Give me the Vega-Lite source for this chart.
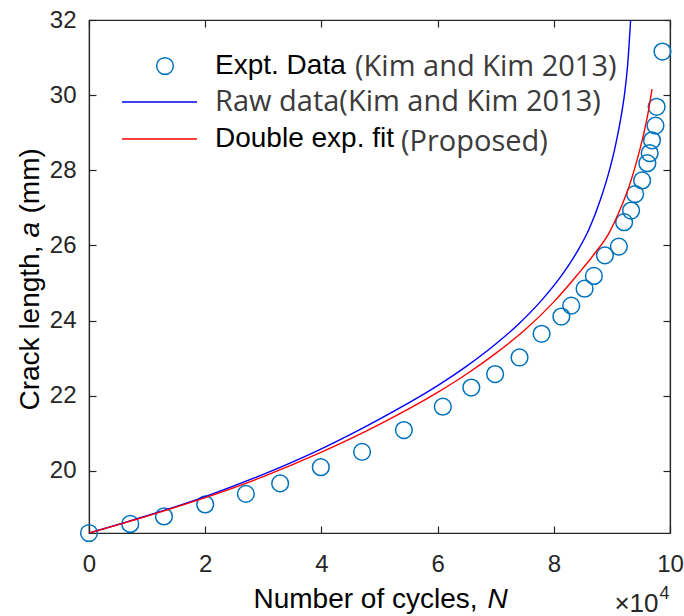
{
  "$schema": "https://vega.github.io/schema/vega-lite/v6.json",
  "width": 581,
  "height": 513,
  "autosize": {"type": "none"},
  "padding": {"left": 89, "top": 20, "right": 14, "bottom": 83},
  "background": "#ffffff",
  "config": {
    "view": {"stroke": "#262626", "strokeWidth": 1.2},
    "font": "Liberation Sans",
    "axis": {
      "grid": false,
      "domainColor": "#262626",
      "domainWidth": 1.2,
      "tickColor": "#262626",
      "tickWidth": 1.2,
      "labelColor": "#262626",
      "labelFont": "Liberation Sans",
      "titleFont": "Liberation Sans",
      "titleFontWeight": "normal",
      "titleColor": "#000000",
      "titleBaseline": "alphabetic",
      "titleAlign": "left"
    }
  },
  "datasets": {
    "expt": [
      {"N": 0, "a": 18.35, "series": "Expt. Data", "source": "(Kim and Kim 2013)"},
      {"N": 7100, "a": 18.59, "series": "Expt. Data", "source": "(Kim and Kim 2013)"},
      {"N": 12900, "a": 18.79, "series": "Expt. Data", "source": "(Kim and Kim 2013)"},
      {"N": 20000, "a": 19.11, "series": "Expt. Data", "source": "(Kim and Kim 2013)"},
      {"N": 27000, "a": 19.39, "series": "Expt. Data", "source": "(Kim and Kim 2013)"},
      {"N": 32900, "a": 19.67, "series": "Expt. Data", "source": "(Kim and Kim 2013)"},
      {"N": 39900, "a": 20.10, "series": "Expt. Data", "source": "(Kim and Kim 2013)"},
      {"N": 47000, "a": 20.51, "series": "Expt. Data", "source": "(Kim and Kim 2013)"},
      {"N": 54200, "a": 21.09, "series": "Expt. Data", "source": "(Kim and Kim 2013)"},
      {"N": 60900, "a": 21.71, "series": "Expt. Data", "source": "(Kim and Kim 2013)"},
      {"N": 65800, "a": 22.22, "series": "Expt. Data", "source": "(Kim and Kim 2013)"},
      {"N": 69900, "a": 22.58, "series": "Expt. Data", "source": "(Kim and Kim 2013)"},
      {"N": 74100, "a": 23.02, "series": "Expt. Data", "source": "(Kim and Kim 2013)"},
      {"N": 77900, "a": 23.65, "series": "Expt. Data", "source": "(Kim and Kim 2013)"},
      {"N": 81300, "a": 24.11, "series": "Expt. Data", "source": "(Kim and Kim 2013)"},
      {"N": 83000, "a": 24.40, "series": "Expt. Data", "source": "(Kim and Kim 2013)"},
      {"N": 85300, "a": 24.85, "series": "Expt. Data", "source": "(Kim and Kim 2013)"},
      {"N": 86900, "a": 25.19, "series": "Expt. Data", "source": "(Kim and Kim 2013)"},
      {"N": 88800, "a": 25.74, "series": "Expt. Data", "source": "(Kim and Kim 2013)"},
      {"N": 91200, "a": 25.97, "series": "Expt. Data", "source": "(Kim and Kim 2013)"},
      {"N": 92100, "a": 26.62, "series": "Expt. Data", "source": "(Kim and Kim 2013)"},
      {"N": 93300, "a": 26.93, "series": "Expt. Data", "source": "(Kim and Kim 2013)"},
      {"N": 94000, "a": 27.37, "series": "Expt. Data", "source": "(Kim and Kim 2013)"},
      {"N": 95200, "a": 27.73, "series": "Expt. Data", "source": "(Kim and Kim 2013)"},
      {"N": 96100, "a": 28.19, "series": "Expt. Data", "source": "(Kim and Kim 2013)"},
      {"N": 96500, "a": 28.46, "series": "Expt. Data", "source": "(Kim and Kim 2013)"},
      {"N": 96900, "a": 28.80, "series": "Expt. Data", "source": "(Kim and Kim 2013)"},
      {"N": 97500, "a": 29.19, "series": "Expt. Data", "source": "(Kim and Kim 2013)"},
      {"N": 97700, "a": 29.69, "series": "Expt. Data", "source": "(Kim and Kim 2013)"},
      {"N": 98700, "a": 31.16, "series": "Expt. Data", "source": "(Kim and Kim 2013)"}
    ],
    "curves": [
      {"N": 0, "a": 18.35, "series": "Raw data(Kim and Kim 2013)", "source": "(Kim and Kim 2013)"},
      {"N": 10000, "a": 18.81, "series": "Raw data(Kim and Kim 2013)", "source": "(Kim and Kim 2013)"},
      {"N": 20000, "a": 19.32, "series": "Raw data(Kim and Kim 2013)", "source": "(Kim and Kim 2013)"},
      {"N": 30000, "a": 19.91, "series": "Raw data(Kim and Kim 2013)", "source": "(Kim and Kim 2013)"},
      {"N": 40000, "a": 20.59, "series": "Raw data(Kim and Kim 2013)", "source": "(Kim and Kim 2013)"},
      {"N": 50000, "a": 21.38, "series": "Raw data(Kim and Kim 2013)", "source": "(Kim and Kim 2013)"},
      {"N": 60000, "a": 22.27, "series": "Raw data(Kim and Kim 2013)", "source": "(Kim and Kim 2013)"},
      {"N": 65000, "a": 22.79, "series": "Raw data(Kim and Kim 2013)", "source": "(Kim and Kim 2013)"},
      {"N": 70000, "a": 23.38, "series": "Raw data(Kim and Kim 2013)", "source": "(Kim and Kim 2013)"},
      {"N": 74000, "a": 23.92, "series": "Raw data(Kim and Kim 2013)", "source": "(Kim and Kim 2013)"},
      {"N": 78000, "a": 24.56, "series": "Raw data(Kim and Kim 2013)", "source": "(Kim and Kim 2013)"},
      {"N": 81000, "a": 25.13, "series": "Raw data(Kim and Kim 2013)", "source": "(Kim and Kim 2013)"},
      {"N": 84000, "a": 25.83, "series": "Raw data(Kim and Kim 2013)", "source": "(Kim and Kim 2013)"},
      {"N": 86000, "a": 26.41, "series": "Raw data(Kim and Kim 2013)", "source": "(Kim and Kim 2013)"},
      {"N": 88000, "a": 27.21, "series": "Raw data(Kim and Kim 2013)", "source": "(Kim and Kim 2013)"},
      {"N": 89500, "a": 27.96, "series": "Raw data(Kim and Kim 2013)", "source": "(Kim and Kim 2013)"},
      {"N": 90500, "a": 28.58, "series": "Raw data(Kim and Kim 2013)", "source": "(Kim and Kim 2013)"},
      {"N": 91500, "a": 29.36, "series": "Raw data(Kim and Kim 2013)", "source": "(Kim and Kim 2013)"},
      {"N": 92200, "a": 30.06, "series": "Raw data(Kim and Kim 2013)", "source": "(Kim and Kim 2013)"},
      {"N": 92700, "a": 30.79, "series": "Raw data(Kim and Kim 2013)", "source": "(Kim and Kim 2013)"},
      {"N": 93200, "a": 31.94, "series": "Raw data(Kim and Kim 2013)", "source": "(Kim and Kim 2013)"},
      {"N": 93300, "a": 32.2, "series": "Raw data(Kim and Kim 2013)", "source": "(Kim and Kim 2013)"},
      {"N": 0, "a": 18.35, "series": "Double exp. fit", "source": "(Proposed)"},
      {"N": 10000, "a": 18.80, "series": "Double exp. fit", "source": "(Proposed)"},
      {"N": 20000, "a": 19.29, "series": "Double exp. fit", "source": "(Proposed)"},
      {"N": 30000, "a": 19.85, "series": "Double exp. fit", "source": "(Proposed)"},
      {"N": 40000, "a": 20.50, "series": "Double exp. fit", "source": "(Proposed)"},
      {"N": 50000, "a": 21.24, "series": "Double exp. fit", "source": "(Proposed)"},
      {"N": 60000, "a": 22.09, "series": "Double exp. fit", "source": "(Proposed)"},
      {"N": 65000, "a": 22.58, "series": "Double exp. fit", "source": "(Proposed)"},
      {"N": 70000, "a": 23.13, "series": "Double exp. fit", "source": "(Proposed)"},
      {"N": 75000, "a": 23.75, "series": "Double exp. fit", "source": "(Proposed)"},
      {"N": 80000, "a": 24.50, "series": "Double exp. fit", "source": "(Proposed)"},
      {"N": 84000, "a": 25.21, "series": "Double exp. fit", "source": "(Proposed)"},
      {"N": 87000, "a": 25.78, "series": "Double exp. fit", "source": "(Proposed)"},
      {"N": 89500, "a": 26.33, "series": "Double exp. fit", "source": "(Proposed)"},
      {"N": 91500, "a": 26.99, "series": "Double exp. fit", "source": "(Proposed)"},
      {"N": 93000, "a": 27.59, "series": "Double exp. fit", "source": "(Proposed)"},
      {"N": 94500, "a": 28.37, "series": "Double exp. fit", "source": "(Proposed)"},
      {"N": 95500, "a": 28.99, "series": "Double exp. fit", "source": "(Proposed)"},
      {"N": 96300, "a": 29.59, "series": "Double exp. fit", "source": "(Proposed)"},
      {"N": 96900, "a": 30.16, "series": "Double exp. fit", "source": "(Proposed)"}
    ]
  },
  "layer": [
    {
      "data": {"name": "expt"},
      "mark": {"type": "point", "shape": "circle", "filled": false, "size": 280, "strokeWidth": 1.5},
      "encoding": {
        "x": {
          "field": "N", "type": "quantitative",
          "scale": {"domain": [0, 100000], "nice": false, "zero": false},
          "axis": {
            "orient": "bottom",
            "values": [0, 20000, 40000, 60000, 80000, 100000],
            "labelExpr": "format(datum.value / 10000, 'd')",
            "labelFontSize": 24, "labelPadding": 26, "labelFlush": false, "labelOverlap": false,
            "tickSize": -7,
            "title": "Number of cycles,", "titleFontSize": 28,
            "titleX": 164, "titleY": 74
          }
        },
        "y": {
          "field": "a", "type": "quantitative",
          "scale": {"domain": [18.35, 32], "nice": false, "zero": false},
          "axis": {
            "orient": "left",
            "values": [20, 22, 24, 26, 28, 30, 32],
            "labelFontSize": 24, "labelPadding": 20, "labelFlush": false, "labelOverlap": false,
            "tickSize": -7,
            "title": "Crack length,", "titleFontSize": 28,
            "titleX": -51, "titleY": 390
          }
        },
        "color": {
          "field": "series", "type": "nominal",
          "scale": {
            "domain": ["Expt. Data", "Raw data(Kim and Kim 2013)", "Double exp. fit"],
            "range": ["#0072BD", "#0000FF", "#FF0000"]
          },
          "legend": {
            "orient": "none", "legendX": 33, "legendY": 32, "title": null, "padding": 0,
            "symbolType": "stroke", "symbolSize": 5625, "symbolStrokeWidth": 1.3, "symbolOffset": 0,
            "labelOffset": 15, "rowPadding": 8, "labelLimit": 600,
            "labelFont": "Liberation Sans", "labelFontSize": 28, "labelColor": "#000000",
            "encode": {
              "symbols": {
                "update": {
                  "shape": {"signal": "datum.value === 'Expt. Data' ? 'circle' : 'stroke'"},
                  "size": {"signal": "datum.value === 'Expt. Data' ? 280 : 5625"},
                  "strokeWidth": {"signal": "datum.value === 'Expt. Data' ? 1.5 : 1.3"},
                  "x": {"signal": "datum.value === 'Expt. Data' ? 43 : 37.5"},
                  "fill": {"value": "transparent"},
                  "opacity": {"value": 1}
                }
              },
              "labels": {
                "update": {
                  "x": {"value": 93},
                  "font": {"signal": "datum.value === 'Raw data(Kim and Kim 2013)' ? 'Open Sans' : 'Liberation Sans'"},
                  "fontSize": {"signal": "datum.value === 'Raw data(Kim and Kim 2013)' ? 29 : 28"},
                  "fill": {"signal": "datum.value === 'Raw data(Kim and Kim 2013)' ? '#3b3b3b' : '#000000'"}
                }
              }
            }
          }
        },
        "opacity": {
          "field": "source", "type": "ordinal",
          "scale": {"domain": ["(Kim and Kim 2013)", "(Proposed)"], "range": [1, 1]},
          "legend": {
            "orient": "none", "legendX": 266, "legendY": 32, "title": null, "padding": 0,
            "symbolSize": 1, "symbolOpacity": 0, "symbolOffset": 0,
            "labelOffset": 0, "rowPadding": 45, "labelLimit": 600,
            "labelFont": "Open Sans", "labelFontSize": 29, "labelColor": "#3b3b3b",
            "encode": {
              "symbols": {"update": {"opacity": {"value": 0}, "fill": {"value": "transparent"}, "stroke": {"value": "transparent"}}},
              "labels": {
                "update": {
                  "x": {"signal": "datum.value === '(Proposed)' ? 46 : 0"}
                }
              }
            }
          }
        }
      }
    },
    {
      "data": {"name": "curves"},
      "mark": {"type": "line", "strokeWidth": 1.4, "interpolate": "monotone", "clip": true},
      "encoding": {
        "x": {
          "field": "N", "type": "quantitative",
          "scale": {"domain": [0, 100000], "nice": false, "zero": false},
          "axis": {
            "orient": "top", "values": [0, 20000, 40000, 60000, 80000, 100000],
            "labels": false, "tickSize": -7, "title": null
          }
        },
        "y": {
          "field": "a", "type": "quantitative",
          "scale": {"domain": [18.35, 32], "nice": false, "zero": false},
          "axis": {
            "orient": "right", "values": [20, 22, 24, 26, 28, 30, 32],
            "labels": false, "tickSize": -7, "title": null
          }
        },
        "color": {
          "field": "series", "type": "nominal",
          "legend": {
            "orient": "none", "legendX": 33, "legendY": 32, "title": null, "padding": 0,
            "symbolType": "stroke", "symbolSize": 5625, "symbolStrokeWidth": 1.3, "symbolOffset": 0,
            "labelOffset": 15, "rowPadding": 8, "labelLimit": 600,
            "labelFont": "Liberation Sans", "labelFontSize": 28, "labelColor": "#000000",
            "encode": {
              "symbols": {
                "update": {
                  "shape": {"signal": "datum.value === 'Expt. Data' ? 'circle' : 'stroke'"},
                  "size": {"signal": "datum.value === 'Expt. Data' ? 280 : 5625"},
                  "strokeWidth": {"signal": "datum.value === 'Expt. Data' ? 1.5 : 1.3"},
                  "x": {"signal": "datum.value === 'Expt. Data' ? 43 : 37.5"},
                  "fill": {"value": "transparent"},
                  "opacity": {"value": 1}
                }
              },
              "labels": {
                "update": {
                  "x": {"value": 93},
                  "font": {"signal": "datum.value === 'Raw data(Kim and Kim 2013)' ? 'Open Sans' : 'Liberation Sans'"},
                  "fontSize": {"signal": "datum.value === 'Raw data(Kim and Kim 2013)' ? 29 : 28"},
                  "fill": {"signal": "datum.value === 'Raw data(Kim and Kim 2013)' ? '#3b3b3b' : '#000000'"}
                }
              }
            }
          }
        },
        "opacity": {
          "field": "source", "type": "ordinal",
          "legend": {
            "orient": "none", "legendX": 266, "legendY": 32, "title": null, "padding": 0,
            "symbolSize": 1, "symbolOpacity": 0, "symbolOffset": 0,
            "labelOffset": 0, "rowPadding": 45, "labelLimit": 600,
            "labelFont": "Open Sans", "labelFontSize": 29, "labelColor": "#3b3b3b",
            "encode": {
              "symbols": {"update": {"opacity": {"value": 0}, "fill": {"value": "transparent"}, "stroke": {"value": "transparent"}}},
              "labels": {
                "update": {
                  "x": {"signal": "datum.value === '(Proposed)' ? 46 : 0"}
                }
              }
            }
          }
        }
      }
    },
    {
      "data": {"name": "expt"},
      "mark": {"type": "point", "opacity": 0},
      "encoding": {
        "x": {
          "field": "N", "type": "quantitative",
          "axis": {
            "orient": "bottom", "labels": false, "ticks": false, "domain": false,
            "title": "N", "titleFontSize": 28, "titleFontStyle": "italic",
            "titleX": 398, "titleY": 74
          }
        },
        "y": {
          "field": "a", "type": "quantitative",
          "axis": {
            "orient": "left", "labels": false, "ticks": false, "domain": false,
            "title": "a", "titleFontSize": 28, "titleFontStyle": "italic",
            "titleX": -51, "titleY": 217
          }
        }
      }
    },
    {
      "data": {"name": "expt"},
      "mark": {"type": "point", "opacity": 0},
      "encoding": {
        "x": {
          "field": "N", "type": "quantitative",
          "axis": {
            "orient": "bottom", "labels": false, "ticks": false, "domain": false,
            "title": "×10", "titleFontSize": 26, "titleColor": "#262626", "titleAlign": "right",
            "titleX": 569, "titleY": 78
          }
        },
        "y": {
          "field": "a", "type": "quantitative",
          "axis": {
            "orient": "left", "labels": false, "ticks": false, "domain": false,
            "title": "(mm)", "titleFontSize": 28,
            "titleX": -51, "titleY": 193
          }
        }
      }
    },
    {
      "data": {"name": "expt"},
      "mark": {"type": "point", "opacity": 0},
      "encoding": {
        "x": {
          "field": "N", "type": "quantitative",
          "axis": {
            "orient": "bottom", "labels": false, "ticks": false, "domain": false,
            "title": "4", "titleFontSize": 18, "titleColor": "#262626",
            "titleX": 570, "titleY": 65
          }
        },
        "y": {"field": "a", "type": "quantitative", "axis": null}
      }
    }
  ],
  "resolve": {"axis": {"x": "independent", "y": "independent"}}
}
